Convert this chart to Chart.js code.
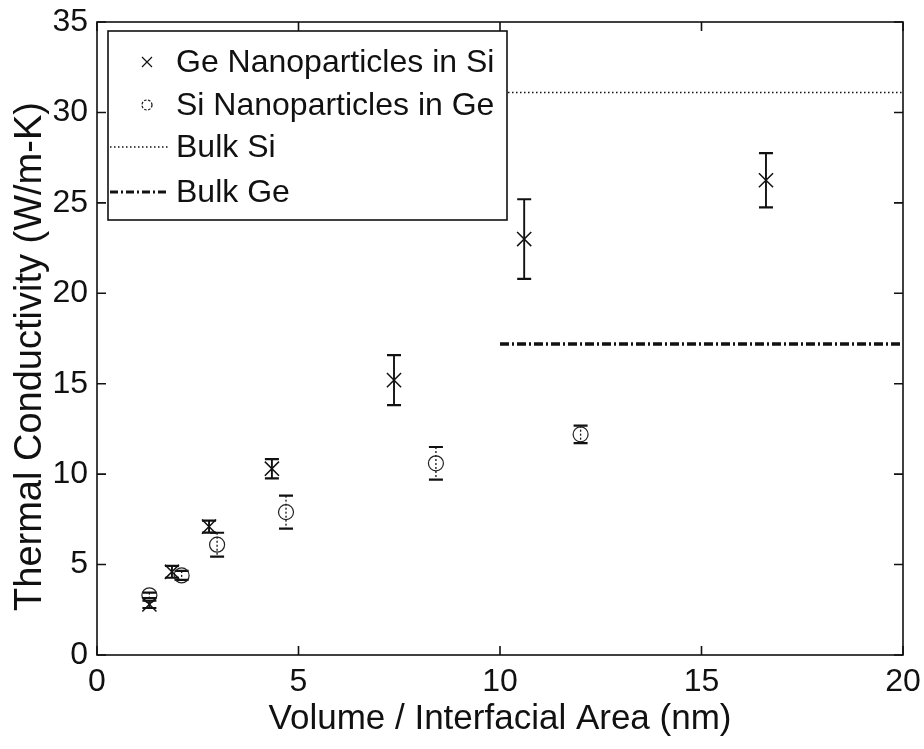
<!DOCTYPE html>
<html><head><meta charset="utf-8">
<script src="https://cdn.jsdelivr.net/npm/chart.js@4"></script>
<style>html,body{margin:0;padding:0;background:#fff}canvas{display:block}</style>
</head><body>
<canvas id="c" width="924" height="749"></canvas>
<script>
const geX = [1.3, 1.86, 2.78, 4.34, 7.37, 10.6, 16.6];
const geY = [2.8, 4.6, 7.1, 10.3, 15.2, 23.0, 26.25];
const geErr = [0.2, 0.33, 0.33, 0.53, 1.38, 2.2, 1.5];
const siX = [1.3, 2.1, 2.98, 4.69, 8.41, 12.0];
const siY = [3.3, 4.4, 6.1, 7.9, 10.6, 12.2];
const siErr = [0.15, 0.25, 0.66, 0.91, 0.9, 0.48];
const bulkX = [10, 20];
const bulkSiK = 31.1;
const bulkGeK = 17.2;
const xTicks = [0, 5, 10, 15, 20];
const yTicks = [0, 5, 10, 15, 20, 25, 30, 35];
const legendLabels = ['Ge Nanoparticles in Si', 'Si Nanoparticles in Ge', 'Bulk Si', 'Bulk Ge'];
const xTitle = 'Volume / Interfacial Area (nm)';
const yTitle = 'Thermal Conductivity (W/m-K)';

const FONT = "'Liberation Sans', Arial, Helvetica, sans-serif";
const pts = (xs, ys) => xs.map((x, i) => ({x: x, y: ys[i]}));

const errorBars = {
  id: 'errorBars',
  beforeDatasetsDraw(chart) {
    const ctx = chart.ctx, xs = chart.scales.x, ys = chart.scales.y;
    chart.data.datasets.forEach(ds => {
      if (!ds.errors) return;
      ctx.save();
      ctx.strokeStyle = '#111';
      ds.data.forEach((p, i) => {
        const px = xs.getPixelForValue(p.x);
        const top = ys.getPixelForValue(p.y + ds.errors[i]);
        const bot = ys.getPixelForValue(p.y - ds.errors[i]);
        ctx.lineWidth = ds.errWidth;
        ctx.setLineDash(ds.errDash);
        ctx.beginPath(); ctx.moveTo(px, top); ctx.lineTo(px, bot); ctx.stroke();
        ctx.setLineDash([]);
        ctx.lineWidth = 2.2;
        ctx.beginPath();
        ctx.moveTo(px - 7, top); ctx.lineTo(px + 7, top);
        ctx.moveTo(px - 7, bot); ctx.lineTo(px + 7, bot);
        ctx.stroke();
      });
      ctx.restore();
    });
  }
};

const frame = {
  id: 'frame',
  afterDatasetsDraw(chart) {
    const ctx = chart.ctx, a = chart.chartArea, xs = chart.scales.x, ys = chart.scales.y;
    ctx.save();
    ctx.strokeStyle = '#111';
    ctx.lineWidth = 1.6;
    ctx.strokeRect(a.left, a.top, a.right - a.left, a.bottom - a.top);
    const L = 9;
    ctx.beginPath();
    xTicks.forEach(v => {
      const p = xs.getPixelForValue(v);
      ctx.moveTo(p, a.bottom); ctx.lineTo(p, a.bottom - L);
      ctx.moveTo(p, a.top); ctx.lineTo(p, a.top + L);
    });
    yTicks.forEach(v => {
      const p = ys.getPixelForValue(v);
      ctx.moveTo(a.left, p); ctx.lineTo(a.left + L, p);
      ctx.moveTo(a.right, p); ctx.lineTo(a.right - L, p);
    });
    ctx.stroke();
    ctx.restore();
  }
};

const yTitleDraw = {
  id: 'yTitleDraw',
  afterDraw(chart) {
    const ctx = chart.ctx, a = chart.chartArea;
    ctx.save();
    ctx.translate(31, (a.top + a.bottom) / 2 + 18);
    ctx.rotate(-Math.PI / 2);
    ctx.font = '38px ' + FONT;
    ctx.fillStyle = '#111';
    ctx.textAlign = 'center';
    ctx.textBaseline = 'middle';
    ctx.fillText(yTitle, 0, 0);
    ctx.restore();
  }
};

const legendBox = {
  id: 'legendBox',
  afterDraw(chart) {
    const ctx = chart.ctx, a = chart.chartArea;
    const bx = a.left + 11, by = a.top + 9, bw = 399, bh = 189;
    ctx.save();
    ctx.fillStyle = '#fff';
    ctx.fillRect(bx, by, bw, bh);
    ctx.strokeStyle = '#111';
    ctx.lineWidth = 1.6;
    ctx.strokeRect(bx, by, bw, bh);
    const rows = [31, 74, 116, 161];
    const mx = bx + 39, lx0 = bx + 2, lx1 = bx + 60, tx = bx + 68;
    ctx.font = '32px ' + FONT;
    ctx.fillStyle = '#111';
    ctx.textBaseline = 'middle';
    rows.forEach((r, i) => {
      const y = by + r;
      ctx.fillText(legendLabels[i], tx, y + 1);
      ctx.beginPath();
      if (i === 0) {
        ctx.lineWidth = 1.2;
        ctx.moveTo(mx - 5, y - 5); ctx.lineTo(mx + 5, y + 5);
        ctx.moveTo(mx - 5, y + 5); ctx.lineTo(mx + 5, y - 5);
        ctx.stroke();
      } else if (i === 1) {
        ctx.lineWidth = 1.2;
        ctx.setLineDash([2.5, 1.5]);
        ctx.arc(mx, y, 5, 0, Math.PI * 2);
        ctx.stroke();
      } else if (i === 2) {
        ctx.lineWidth = 1.5;
        ctx.setLineDash([1.5, 2.5]);
        ctx.moveTo(lx0, y); ctx.lineTo(lx1, y); ctx.stroke();
      } else {
        ctx.lineWidth = 3;
        ctx.setLineDash([8, 3, 2, 3]);
        ctx.moveTo(lx0, y); ctx.lineTo(lx1, y); ctx.stroke();
      }
      ctx.setLineDash([]);
    });
    ctx.restore();
  }
};

new Chart(document.getElementById('c'), {
  type: 'scatter',
  data: {
    datasets: [
      {
        label: legendLabels[0], data: pts(geX, geY), errors: geErr, errWidth: 1.9, errDash: [],
        pointStyle: 'crossRot', pointRadius: 10, pointBorderWidth: 1.5,
        borderColor: '#111', backgroundColor: '#111', showLine: false
      },
      {
        label: legendLabels[1], data: pts(siX, siY), errors: siErr, errWidth: 1.3, errDash: [2, 2],
        pointStyle: 'circle', pointRadius: 7.5, pointBorderWidth: 1.2,
        borderColor: '#222', backgroundColor: 'rgba(0,0,0,0)', showLine: false
      },
      {
        label: legendLabels[2], data: bulkX.map(x => ({x: x, y: bulkSiK})),
        showLine: true, pointRadius: 0, borderColor: '#111', borderWidth: 1.5,
        borderDash: [1.5, 2.5], backgroundColor: '#111'
      },
      {
        label: legendLabels[3], data: bulkX.map(x => ({x: x, y: bulkGeK})),
        showLine: true, pointRadius: 0, borderColor: '#111', borderWidth: 3.4,
        borderDash: [9, 3, 2, 3], backgroundColor: '#111'
      }
    ]
  },
  options: {
    responsive: false,
    animation: false,
    devicePixelRatio: 1,
    layout: {padding: {top: 22, right: 21, left: 0, bottom: 0}},
    plugins: {legend: {display: false}, tooltip: {enabled: false}},
    scales: {
      x: {
        type: 'linear', min: 0, max: 20,
        afterBuildTicks: s => { s.ticks = xTicks.map(v => ({value: v})); },
        afterFit: s => { s.height = 94; s.paddingLeft = 0; s.paddingRight = 0; },
        grid: {display: false, drawTicks: false},
        border: {display: false},
        ticks: {color: '#111', font: {family: FONT, size: 32}, padding: 8, maxRotation: 0},
        title: {display: true, text: xTitle, color: '#111', font: {family: FONT, size: 35}, padding: {top: 0, bottom: 9}}
      },
      y: {
        type: 'linear', min: 0, max: 35,
        afterBuildTicks: s => { s.ticks = yTicks.map(v => ({value: v})); },
        afterFit: s => { s.width = 97; s.paddingTop = 0; s.paddingBottom = 0; },
        grid: {display: false, drawTicks: false},
        border: {display: false},
        ticks: {color: '#111', font: {family: FONT, size: 32}, padding: 9},
        title: {display: false, text: yTitle}
      }
    }
  },
  plugins: [errorBars, frame, yTitleDraw, legendBox]
});
</script>
</body></html>
